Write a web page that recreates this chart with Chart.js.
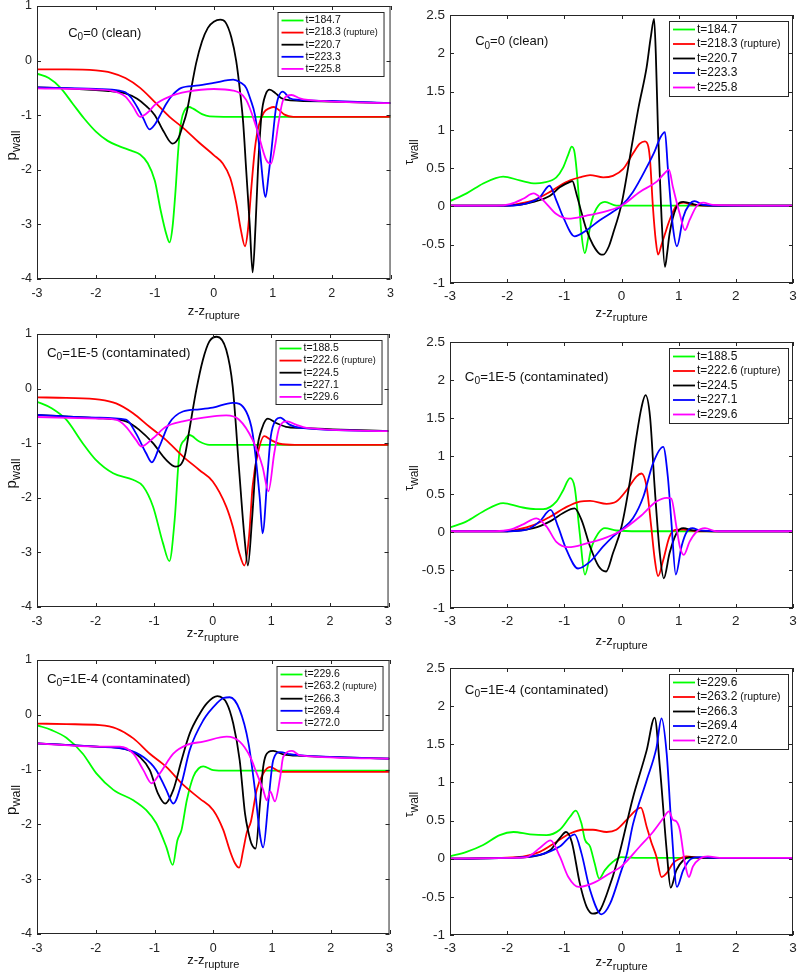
<!doctype html>
<html>

<head>
    <title>p_wall e tau_wall</title>
    <meta http-equiv="Content-Type" content="text/html;charset=UTF-8">
    <script src="https://cdn.jsdelivr.net/npm/chart.js@4/dist/chart.umd.min.js"></script>
    <style>
        body { margin: 0; background: #fff; width: 800px; height: 979px; position: relative; overflow: hidden; }
        canvas { position: absolute; }
    </style>
</head>

<body>
</body>
<script>

    // legendas (tempos)
    var tempos_limpo = ["t=184.7", "t=218.3 (rupture)", "t=220.7", "t=223.3", "t=225.8"];
    var tempos_1e5 = ["t=188.5", "t=222.6 (rupture)", "t=224.5", "t=227.1", "t=229.6"];
    var tempos_1e4 = ["t=229.6", "t=263.2 (rupture)", "t=266.3", "t=269.4", "t=272.0"];

    var cores = ["#00ff00", "#ff0000", "#000000", "#0000ff", "#ff00ff"];

    // C0=0, pressao
    var p_limpo_verde = [[-3,-0.24],[-2.8,-0.32],[-2.6,-0.5],[-2.4,-0.78],[-2.2,-1.06],[-2,-1.3],[-1.8,-1.47],[-1.6,-1.57],[-1.4,-1.65],[-1.25,-1.72],[-1.12,-1.88],[-1,-2.2],[-0.9,-2.75],[-0.8,-3.2],[-0.75,-3.33],[-0.7,-3.05],[-0.65,-2.4],[-0.6,-1.6],[-0.55,-1.1],[-0.5,-0.92],[-0.42,-0.85],[-0.35,-0.88],[-0.2,-0.98],[-0.07,-1.02],[0.5,-1.03],[3,-1.03]];
    var p_limpo_vermelho = [[-3,-0.16],[-2.5,-0.16],[-2,-0.18],[-1.75,-0.22],[-1.5,-0.32],[-1.25,-0.5],[-1,-0.76],[-0.75,-1.03],[-0.5,-1.25],[-0.25,-1.5],[0,-1.73],[0.15,-1.88],[0.28,-2.15],[0.38,-2.6],[0.46,-3.1],[0.53,-3.4],[0.58,-3.1],[0.64,-2.3],[0.7,-1.6],[0.76,-1.2],[0.85,-0.95],[0.95,-0.87],[1.02,-0.85],[1.1,-0.9],[1.2,-0.99],[1.35,-1.03],[3,-1.03]];
    var p_limpo_preto = [[-3,-0.49],[-2.5,-0.51],[-2,-0.54],[-1.75,-0.56],[-1.5,-0.6],[-1.3,-0.7],[-1.15,-0.83],[-1,-1.0],[-0.85,-1.3],[-0.7,-1.52],[-0.6,-1.42],[-0.53,-1.2],[-0.46,-0.95],[-0.38,-0.5],[-0.3,-0.05],[-0.2,0.35],[-0.1,0.6],[0,0.71],[0.11,0.75],[0.2,0.7],[0.3,0.42],[0.38,0],[0.45,-0.6],[0.5,-1.15],[0.55,-2.0],[0.61,-3.0],[0.66,-3.88],[0.71,-3.0],[0.75,-2.0],[0.81,-1.0],[0.88,-0.62],[0.95,-0.53],[1.05,-0.6],[1.15,-0.69],[1.3,-0.73],[2,-0.75],[3,-0.78]];
    var p_limpo_azul = [[-3,-0.49],[-2,-0.52],[-1.6,-0.55],[-1.5,-0.58],[-1.4,-0.68],[-1.3,-0.85],[-1.2,-1.05],[-1.09,-1.26],[-1,-1.17],[-0.92,-1.02],[-0.8,-0.78],[-0.7,-0.63],[-0.55,-0.5],[-0.3,-0.46],[0,-0.41],[0.33,-0.35],[0.45,-0.4],[0.55,-0.5],[0.62,-0.7],[0.7,-1.0],[0.78,-1.63],[0.88,-2.5],[0.93,-2.1],[0.98,-1.63],[1.06,-0.84],[1.17,-0.57],[1.29,-0.69],[1.45,-0.72],[2,-0.74],[3,-0.78]];
    var p_limpo_magenta = [[-3,-0.51],[-2,-0.53],[-1.75,-0.55],[-1.5,-0.66],[-1.37,-0.84],[-1.25,-1.03],[-1.1,-0.93],[-1,-0.81],[-0.75,-0.66],[-0.45,-0.57],[0,-0.52],[0.33,-0.55],[0.55,-0.72],[0.72,-1.21],[0.89,-1.82],[0.97,-1.89],[1.05,-1.5],[1.09,-1.2],[1.18,-0.72],[1.32,-0.63],[1.46,-0.69],[1.6,-0.72],[3,-0.78]];

    // C0=0, tensao
    var tau_limpo_verde = [[-3,0.07],[-2.71,0.17],[-2.42,0.3],[-2.2,0.37],[-2.07,0.39],[-1.78,0.34],[-1.5,0.3],[-1.37,0.31],[-1.14,0.38],[-1.02,0.51],[-0.93,0.68],[-0.87,0.78],[-0.82,0.7],[-0.77,0.35],[-0.7,-0.36],[-0.64,-0.61],[-0.58,-0.4],[-0.55,-0.27],[-0.44,-0.03],[-0.29,0.06],[-0.09,0.01],[0.3,0.01],[3,0.01]];
    var tau_limpo_vermelho = [[-3,0.01],[-2,0.01],[-1.83,0.03],[-1.54,0.08],[-1.25,0.19],[-1.08,0.27],[-0.9,0.34],[-0.73,0.38],[-0.55,0.41],[-0.32,0.38],[-0.15,0.4],[0.03,0.49],[0.2,0.69],[0.32,0.82],[0.41,0.85],[0.47,0.78],[0.5,0.6],[0.55,-0.01],[0.6,-0.45],[0.64,-0.63],[0.7,-0.5],[0.76,-0.36],[0.84,-0.18],[0.96,0.01],[1.08,0.05],[1.25,0.02],[1.5,0.01],[3,0.01]];
    var tau_limpo_preto = [[-3,0.01],[-2,0.01],[-1.54,0.06],[-1.25,0.14],[-1.08,0.25],[-0.9,0.32],[-0.86,0.33],[-0.79,0.17],[-0.7,-0.08],[-0.61,-0.31],[-0.5,-0.5],[-0.38,-0.62],[-0.32,-0.63],[-0.22,-0.52],[-0.15,-0.36],[0,0.03],[0.2,0.88],[0.3,1.3],[0.44,1.82],[0.51,2.2],[0.57,2.45],[0.6,2.0],[0.64,0.95],[0.7,-0.14],[0.76,-0.79],[0.8,-0.6],[0.84,-0.36],[0.96,-0.01],[1.08,0.06],[1.31,0.02],[1.6,0.01],[3,0.01]];
    var tau_limpo_azul = [[-3,0.01],[-2,0.01],[-1.66,0.04],[-1.43,0.12],[-1.26,0.27],[-1.14,0.08],[-1.02,-0.14],[-0.82,-0.39],[-0.61,-0.31],[-0.38,-0.18],[-0.15,-0.07],[0,0.01],[0.2,0.19],[0.44,0.51],[0.58,0.72],[0.68,0.9],[0.76,0.97],[0.81,0.51],[0.9,-0.27],[0.97,-0.52],[1.08,-0.14],[1.19,0.03],[1.28,0.07],[1.43,0.02],[1.7,0.01],[3,0.01]];
    var tau_limpo_magenta = [[-3,0.01],[-2.2,0.01],[-1.95,0.03],[-1.72,0.1],[-1.54,0.17],[-1.37,0.08],[-1.14,-0.1],[-0.93,-0.16],[-0.61,-0.12],[-0.26,-0.06],[0,0.01],[0.32,0.19],[0.61,0.32],[0.75,0.43],[0.83,0.48],[0.9,0.25],[1.02,-0.1],[1.11,-0.31],[1.19,-0.18],[1.31,0],[1.43,0.05],[1.6,0.02],[3,0.01]];

    // C0=1E-5, pressao
    var p_1e5_verde = [[-3,-0.24],[-2.75,-0.36],[-2.5,-0.57],[-2.22,-1.0],[-2,-1.3],[-1.7,-1.55],[-1.36,-1.67],[-1.19,-1.79],[-1.02,-2.16],[-0.85,-2.83],[-0.74,-3.16],[-0.65,-2.4],[-0.57,-1.18],[-0.48,-0.94],[-0.4,-0.85],[-0.23,-0.97],[-0.06,-1.03],[3,-1.03]];
    var p_1e5_vermelho = [[-3,-0.16],[-2.5,-0.17],[-1.93,-0.2],[-1.65,-0.27],[-1.36,-0.45],[-1.08,-0.7],[-0.8,-0.94],[-0.51,-1.24],[-0.23,-1.49],[0,-1.7],[0.23,-2.16],[0.34,-2.52],[0.45,-3.0],[0.54,-3.24],[0.62,-2.7],[0.68,-1.79],[0.77,-1.18],[0.88,-0.87],[0.99,-0.94],[1.14,-1.01],[1.4,-1.03],[3,-1.03]];
    var p_1e5_preto = [[-3,-0.48],[-2,-0.54],[-1.48,-0.6],[-1.25,-0.76],[-1.02,-1.0],[-0.8,-1.3],[-0.63,-1.43],[-0.48,-1.24],[-0.4,-0.76],[-0.28,-0.02],[-0.17,0.52],[-0.06,0.86],[0.07,0.95],[0.23,0.71],[0.34,0.04],[0.45,-1.49],[0.54,-2.71],[0.6,-3.24],[0.67,-2.4],[0.75,-1.18],[0.85,-0.7],[0.94,-0.55],[1.08,-0.63],[1.25,-0.7],[1.5,-0.72],[3,-0.78]];
    var p_1e5_azul = [[-3,-0.48],[-2,-0.53],[-1.48,-0.57],[-1.31,-0.82],[-1.14,-1.18],[-1.04,-1.35],[-0.91,-1.06],[-0.74,-0.63],[-0.51,-0.42],[-0.23,-0.38],[0,-0.35],[0.34,-0.26],[0.57,-0.42],[0.68,-0.82],[0.8,-1.98],[0.85,-2.65],[0.94,-1.49],[0.99,-0.88],[1.08,-0.57],[1.15,-0.53],[1.31,-0.66],[1.5,-0.72],[3,-0.78]];
    var p_1e5_magenta = [[-3,-0.52],[-1.93,-0.55],[-1.65,-0.57],[-1.48,-0.7],[-1.31,-0.94],[-1.22,-1.06],[-1.02,-0.91],[-0.8,-0.7],[-0.51,-0.6],[0,-0.51],[0.23,-0.49],[0.45,-0.57],[0.68,-0.94],[0.85,-1.43],[0.95,-1.88],[1.05,-1.18],[1.14,-0.7],[1.27,-0.6],[1.42,-0.66],[1.6,-0.72],[3,-0.78]];

    // C0=1E-5, tensao
    var tau_1e5_verde = [[-3,0.06],[-2.71,0.14],[-2.42,0.27],[-2.07,0.38],[-1.78,0.33],[-1.5,0.3],[-1.37,0.3],[-1.14,0.4],[-1.02,0.55],[-0.9,0.71],[-0.82,0.59],[-0.73,-0.02],[-0.64,-0.56],[-0.52,-0.19],[-0.41,-0.02],[-0.29,0.05],[-0.09,0.02],[0.3,0.01],[3,0.01]];
    var tau_1e5_vermelho = [[-3,0.01],[-2,0.01],[-1.83,0.03],[-1.54,0.09],[-1.25,0.2],[-0.96,0.33],[-0.73,0.4],[-0.55,0.41],[-0.26,0.37],[-0.09,0.4],[0.09,0.55],[0.26,0.73],[0.35,0.77],[0.44,0.59],[0.52,0.07],[0.58,-0.35],[0.64,-0.58],[0.73,-0.37],[0.84,-0.06],[0.96,0.03],[1.08,0.03],[1.3,0.01],[3,0.01]];
    var tau_1e5_preto = [[-3,0.01],[-2,0.01],[-1.54,0.05],[-1.25,0.14],[-1.02,0.25],[-0.82,0.31],[-0.7,0.16],[-0.55,-0.19],[-0.4,-0.45],[-0.27,-0.52],[-0.15,-0.28],[0,0.07],[0.15,0.68],[0.26,1.25],[0.35,1.64],[0.42,1.8],[0.5,1.51],[0.58,0.59],[0.67,-0.28],[0.74,-0.61],[0.84,-0.28],[0.96,-0.02],[1.08,0.05],[1.25,0.02],[1.6,0.01],[3,0.01]];
    var tau_1e5_azul = [[-3,0.01],[-2,0.01],[-1.66,0.03],[-1.43,0.14],[-1.24,0.29],[-1.11,0.07],[-0.96,-0.24],[-0.76,-0.48],[-0.55,-0.39],[-0.32,-0.19],[-0.15,-0.06],[0,0.03],[0.2,0.18],[0.38,0.46],[0.55,0.9],[0.73,1.12],[0.81,0.73],[0.87,0.16],[0.95,-0.56],[1.05,-0.19],[1.14,0],[1.24,0.05],[1.37,0.02],[1.7,0.01],[3,0.01]];
    var tau_1e5_magenta = [[-3,0.01],[-2.2,0.01],[-1.95,0.03],[-1.72,0.1],[-1.49,0.18],[-1.31,0.07],[-1.14,-0.13],[-0.93,-0.2],[-0.61,-0.15],[-0.26,-0.07],[0,0.02],[0.32,0.2],[0.61,0.4],[0.79,0.45],[0.87,0.44],[0.96,0.07],[1.02,-0.19],[1.09,-0.3],[1.19,-0.13],[1.31,0],[1.46,0.05],[1.66,0.01],[3,0.01]];

    // C0=1E-4, pressao
    var p_1e4_verde = [[-3,-0.19],[-2.75,-0.28],[-2.5,-0.42],[-2.22,-0.71],[-1.99,-1.07],[-1.7,-1.37],[-1.36,-1.56],[-1.14,-1.74],[-0.97,-1.98],[-0.8,-2.41],[-0.69,-2.74],[-0.61,-2.29],[-0.54,-2.1],[-0.45,-1.56],[-0.34,-1.13],[-0.25,-0.98],[-0.17,-0.94],[0,-1.01],[0.23,-1.02],[3,-1.02]];
    var p_1e4_vermelho = [[-3,-0.16],[-2.5,-0.17],[-1.93,-0.19],[-1.65,-0.25],[-1.36,-0.43],[-1.08,-0.71],[-0.8,-0.95],[-0.51,-1.28],[-0.23,-1.53],[0,-1.74],[0.17,-2.1],[0.28,-2.47],[0.37,-2.71],[0.44,-2.79],[0.51,-2.47],[0.57,-2.15],[0.64,-1.95],[0.74,-1.37],[0.85,-1.07],[0.97,-0.95],[1.14,-1.04],[3,-1.04]];
    var p_1e4_preto = [[-3,-0.52],[-1.99,-0.58],[-1.48,-0.63],[-1.25,-0.77],[-1.08,-1.01],[-0.94,-1.44],[-0.82,-1.62],[-0.68,-1.37],[-0.54,-0.83],[-0.4,-0.34],[-0.23,0.02],[-0.11,0.21],[0.07,0.34],[0.23,0.21],[0.34,-0.16],[0.45,-0.83],[0.54,-1.8],[0.6,-2.15],[0.65,-2.35],[0.72,-2.44],[0.8,-1.56],[0.85,-0.95],[0.94,-0.68],[1.02,-0.66],[1.19,-0.72],[1.5,-0.75],[3,-0.8]];
    var p_1e4_azul = [[-3,-0.52],[-1.99,-0.58],[-1.48,-0.63],[-1.19,-0.77],[-0.97,-1.01],[-0.8,-1.37],[-0.68,-1.62],[-0.54,-1.25],[-0.4,-0.64],[-0.17,-0.1],[0.06,0.21],[0.18,0.31],[0.28,0.32],[0.45,0.09],[0.6,-0.52],[0.71,-1.37],[0.8,-2.23],[0.85,-2.42],[0.94,-1.56],[1.02,-0.83],[1.14,-0.68],[1.31,-0.72],[1.6,-0.75],[3,-0.8]];
    var p_1e4_magenta = [[-3,-0.52],[-1.99,-0.58],[-1.59,-0.58],[-1.36,-0.71],[-1.19,-1.01],[-1.05,-1.25],[-0.91,-1.07],[-0.68,-0.71],[-0.45,-0.55],[-0.17,-0.49],[0.23,-0.4],[0.45,-0.49],[0.63,-0.77],[0.74,-1.07],[0.85,-1.37],[0.91,-1.56],[0.97,-1.4],[1.05,-1.58],[1.14,-1.13],[1.19,-0.77],[1.34,-0.66],[1.48,-0.74],[3,-0.8]];

    // C0=1E-4, tensao
    var tau_1e4_verde = [[-3,0.03],[-2.71,0.09],[-2.42,0.18],[-2.13,0.31],[-1.89,0.35],[-1.6,0.32],[-1.31,0.31],[-1.08,0.38],[-0.9,0.55],[-0.8,0.63],[-0.7,0.46],[-0.64,0.25],[-0.55,0.16],[-0.47,-0.06],[-0.39,-0.26],[-0.29,-0.15],[-0.15,-0.04],[0,0.02],[0.3,0.01],[3,0.01]];
    var tau_1e4_vermelho = [[-3,0],[-1.83,0.02],[-1.43,0.09],[-1.14,0.22],[-0.9,0.33],[-0.67,0.38],[-0.5,0.38],[-0.26,0.35],[-0.09,0.38],[0.09,0.51],[0.26,0.64],[0.34,0.67],[0.44,0.42],[0.52,0.22],[0.61,0.03],[0.7,-0.24],[0.79,-0.19],[0.9,-0.06],[1.02,0],[1.13,0.03],[1.4,0.01],[3,0.01]];
    var tau_1e4_preto = [[-3,0],[-2,0.01],[-1.54,0.03],[-1.25,0.11],[-1.08,0.27],[-0.97,0.35],[-0.87,0.22],[-0.73,-0.32],[-0.61,-0.63],[-0.5,-0.72],[-0.38,-0.68],[-0.25,-0.45],[-0.06,0],[0.2,0.8],[0.44,1.42],[0.58,1.85],[0.67,1.21],[0.79,0.11],[0.86,-0.38],[0.96,-0.15],[1.08,-0.02],[1.19,0.02],[1.5,0.01],[3,0.01]];
    var tau_1e4_azul = [[-3,0],[-2,0.01],[-1.43,0.05],[-1.08,0.16],[-0.82,0.32],[-0.7,0.07],[-0.55,-0.41],[-0.35,-0.73],[-0.2,-0.59],[0,-0.15],[0.09,0.05],[0.2,0.45],[0.44,1.03],[0.61,1.45],[0.7,1.84],[0.79,1.38],[0.87,0.46],[0.97,-0.37],[1.08,-0.15],[1.22,0],[1.37,0.02],[1.7,0.01],[3,0.01]];
    var tau_1e4_magenta = [[-3,0],[-1.9,0.01],[-1.66,0.02],[-1.43,0.14],[-1.24,0.24],[-1.08,0.03],[-0.93,-0.24],[-0.75,-0.37],[-0.5,-0.32],[-0.2,-0.19],[0,-0.1],[0.32,0.16],[0.55,0.35],[0.73,0.53],[0.83,0.62],[0.9,0.51],[0.96,0.49],[1.02,0.38],[1.11,-0.06],[1.18,-0.24],[1.25,-0.1],[1.37,0],[1.51,0.03],[1.72,0.01],[3,0.01]];

    var fonte = '"Liberation Sans", Arial, Helvetica, sans-serif';

    // area do grafico em pixels da pagina: [esquerda, topo, direita, base]
    var paineis = [
        { area: [37, 6, 391, 279], lado: "esq", tempos: tempos_limpo,
          curvas: [p_limpo_verde, p_limpo_vermelho, p_limpo_preto, p_limpo_azul, p_limpo_magenta],
          nota: "=0 (clean)", notaPos: [-2.47, 0.5], notaTam: 13, tituloX: 32 },
        { area: [450, 15, 793, 283], lado: "dir", tempos: tempos_limpo,
          curvas: [tau_limpo_verde, tau_limpo_vermelho, tau_limpo_preto, tau_limpo_azul, tau_limpo_magenta],
          nota: "=0 (clean)", notaPos: [-2.56, 2.15], notaTam: 13, tituloX: 30 },
        { area: [37, 334, 389, 607], lado: "esq", tempos: tempos_1e5,
          curvas: [p_1e5_verde, p_1e5_vermelho, p_1e5_preto, p_1e5_azul, p_1e5_magenta],
          nota: "=1E-5 (contaminated)", notaPos: [-2.83, 0.65], notaTam: 13.3, tituloX: 26 },
        { area: [450, 342, 793, 608], lado: "dir", tempos: tempos_1e5,
          curvas: [tau_1e5_verde, tau_1e5_vermelho, tau_1e5_preto, tau_1e5_azul, tau_1e5_magenta],
          nota: "=1E-5 (contaminated)", notaPos: [-2.74, 2.04], notaTam: 13.3, tituloX: 33 },
        { area: [37, 660, 390, 934], lado: "esq", tempos: tempos_1e4,
          curvas: [p_1e4_verde, p_1e4_vermelho, p_1e4_preto, p_1e4_azul, p_1e4_magenta],
          nota: "=1E-4 (contaminated)", notaPos: [-2.83, 0.65], notaTam: 13.3, tituloX: 26 },
        { area: [450, 668, 793, 935], lado: "dir", tempos: tempos_1e4,
          curvas: [tau_1e4_verde, tau_1e4_vermelho, tau_1e4_preto, tau_1e4_azul, tau_1e4_magenta],
          nota: "=1E-4 (contaminated)", notaPos: [-2.74, 2.21], notaTam: 13.3, tituloX: 27 }
    ];

    var estilo = {
        esq: { ymin: -4, ymax: 1, passo: 1, tick: 12.5, padX: 7, titY: [["p", 15, 0], ["wall", 12.5, 5]], dxTitY: 25,
               leg: { w: 106, h: 64, dx: 7, dy: 6, linha0: 8.5, passo: 12.1, tam: 10.5, tamSub: 9 } },
        dir: { ymin: -1, ymax: 2.5, passo: 0.5, tick: 13.5, padX: 5, titY: [["\u03c4", 12, 0], ["wall", 12, 5]], dxTitY: 40,
               leg: { w: 119, h: 75, dx: 5, dy: 6, linha0: 8.5, passo: 14.5, tam: 12, tamSub: 10.5 } }
    };

    var ESQ = 60, TOPO = 15, DIR = 10, BASE = 50;

    function escreve(ctx, partes, x, y) {
        partes.forEach(function (p) {
            ctx.font = p[1] + "px " + fonte;
            ctx.fillText(p[0], x, y + p[2]);
            x += ctx.measureText(p[0]).width;
        });
    }

    function mede(ctx, partes) {
        var w = 0;
        partes.forEach(function (p) {
            ctx.font = p[1] + "px " + fonte;
            w += ctx.measureText(p[0]).width;
        });
        return w;
    }

    function desenha_extras(chart, cfg) {
        var ctx = chart.ctx;
        var ca = chart.chartArea;
        var est = estilo[cfg.lado];
        var sx = chart.scales.x, sy = chart.scales.y;
        ctx.save();

        // caixa e marcas para dentro
        ctx.strokeStyle = "#262626";
        ctx.lineWidth = 1;
        ctx.strokeRect(ca.left + 0.5, ca.top + 0.5, ca.right - ca.left - 1, ca.bottom - ca.top - 1);
        ctx.beginPath();
        sx.ticks.forEach(function (t) {
            var px = Math.round(sx.getPixelForValue(t.value)) + 0.5;
            ctx.moveTo(px, ca.bottom); ctx.lineTo(px, ca.bottom - 4);
            ctx.moveTo(px, ca.top); ctx.lineTo(px, ca.top + 4);
        });
        sy.ticks.forEach(function (t) {
            var py = Math.round(sy.getPixelForValue(t.value)) + 0.5;
            ctx.moveTo(ca.left, py); ctx.lineTo(ca.left + 4, py);
            ctx.moveTo(ca.right, py); ctx.lineTo(ca.right - 4, py);
        });
        ctx.stroke();

        ctx.fillStyle = "#111";
        ctx.textBaseline = "middle";
        ctx.textAlign = "left";

        // nota C0
        var nx = sx.getPixelForValue(cfg.notaPos[0]);
        var ny = sy.getPixelForValue(cfg.notaPos[1]);
        escreve(ctx, [["C", cfg.notaTam, 0], ["0", cfg.notaTam * 0.77, 4], [cfg.nota, cfg.notaTam, 0]], nx, ny);

        // titulo eixo x
        var tx = [["z-z", 13, 0], ["rupture", 11, 5]];
        var cx = (ca.left + ca.right) / 2;
        escreve(ctx, tx, cx - mede(ctx, tx) / 2, ca.bottom + cfg.tituloX);

        // titulo eixo y
        ctx.save();
        ctx.translate(ca.left - est.dxTitY, (ca.top + ca.bottom) / 2 + 3);
        ctx.rotate(-Math.PI / 2);
        escreve(ctx, est.titY, -mede(ctx, est.titY) / 2, 0);
        ctx.restore();

        // legenda
        var L = est.leg;
        var x0 = ca.right - L.dx - L.w, y0 = ca.top + L.dy;
        ctx.fillStyle = "#fff";
        ctx.fillRect(x0, y0, L.w, L.h);
        ctx.strokeStyle = "#262626";
        ctx.lineWidth = 1;
        ctx.strokeRect(x0 + 0.5, y0 + 0.5, L.w, L.h);
        chart.data.datasets.forEach(function (ds, i) {
            var y = y0 + L.linha0 + i * L.passo;
            ctx.strokeStyle = ds.borderColor;
            ctx.lineWidth = 1.8;
            ctx.beginPath();
            ctx.moveTo(x0 + 4, y); ctx.lineTo(x0 + 26, y);
            ctx.stroke();
            ctx.fillStyle = "#111";
            var k = ds.label.indexOf(" (");
            var partes = k < 0 ? [[ds.label, L.tam, 0]] :
                [[ds.label.slice(0, k), L.tam, 0], [ds.label.slice(k), L.tamSub, 0]];
            escreve(ctx, partes, x0 + 28, y);
        });

        ctx.restore();
    }

    function plota_painel(cfg) {
        var a = cfg.area;
        var est = estilo[cfg.lado];
        var canvas = document.createElement("canvas");
        canvas.width = a[2] - a[0] + ESQ + DIR;
        canvas.height = a[3] - a[1] + TOPO + BASE;
        canvas.style.left = (a[0] - ESQ) + "px";
        canvas.style.top = (a[1] - TOPO) + "px";
        document.body.appendChild(canvas);

        new Chart(canvas, {
            type: "line",
            data: {
                datasets: cfg.curvas.map(function (c, i) {
                    return {
                        label: cfg.tempos[i],
                        data: c,
                        borderColor: cores[i],
                        borderWidth: 1.8,
                        pointRadius: 0,
                        fill: false,
                        cubicInterpolationMode: "monotone",
                        order: 5 - i
                    };
                })
            },
            options: {
                responsive: false,
                animation: false,
                devicePixelRatio: 1,
                layout: { padding: { left: 0, top: TOPO, right: DIR, bottom: 0 } },
                plugins: { legend: { display: false }, tooltip: { enabled: false } },
                scales: {
                    x: {
                        type: "linear", min: -3, max: 3,
                        grid: { display: false, drawTicks: false },
                        border: { display: false },
                        ticks: { stepSize: 1, autoSkip: false, maxRotation: 0, padding: est.padX, color: "#222",
                                 font: { family: fonte, size: est.tick } },
                        afterFit: function (s) { s.height = BASE; }
                    },
                    y: {
                        min: est.ymin, max: est.ymax,
                        grid: { display: false, drawTicks: false },
                        border: { display: false },
                        ticks: { stepSize: est.passo, autoSkip: false, padding: 5, color: "#222",
                                 font: { family: fonte, size: est.tick },
                                 callback: function (v) { return String(Math.round(v * 10) / 10); } },
                        afterFit: function (s) { s.width = ESQ; }
                    }
                }
            },
            plugins: [{ id: "extras", afterDraw: function (ch) { desenha_extras(ch, cfg); } }]
        });
    }

    paineis.forEach(plota_painel);
</script>

</html>
